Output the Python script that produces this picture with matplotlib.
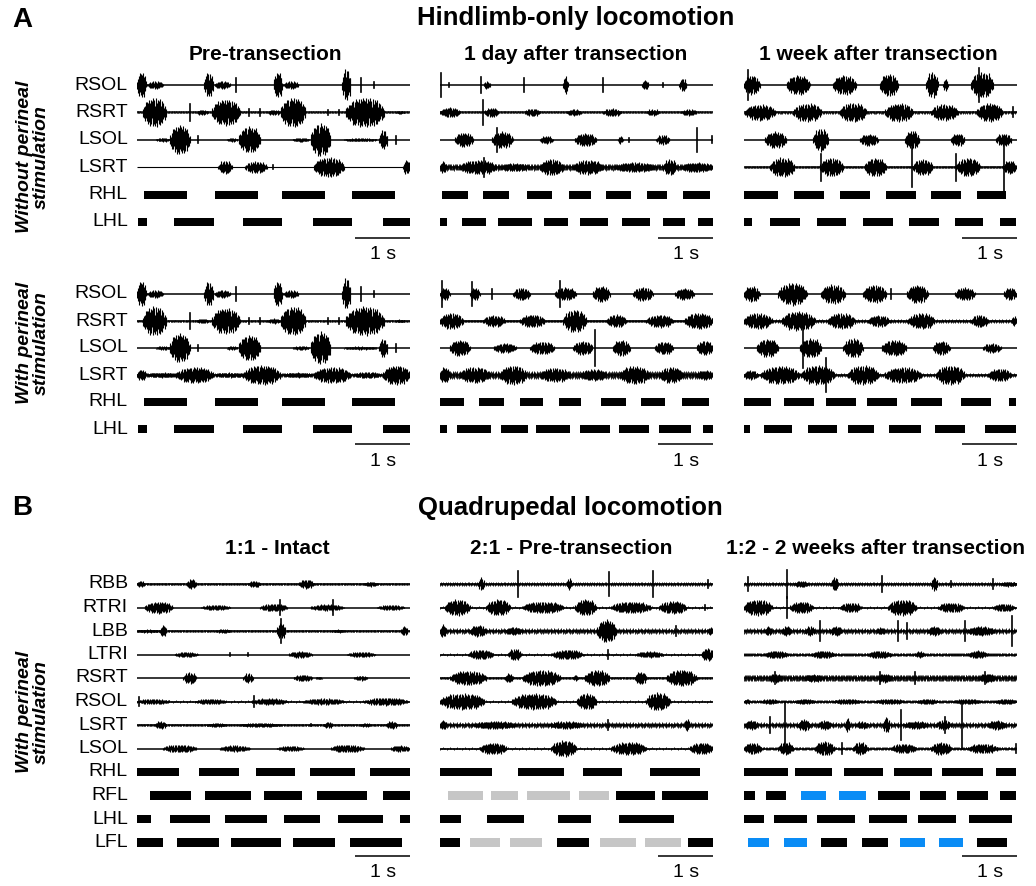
import numpy as np
import matplotlib
matplotlib.use("Agg")
import matplotlib.pyplot as plt
from matplotlib.transforms import blended_transform_factory

plt.rcParams['font.family'] = ['Liberation Sans', 'DejaVu Sans']

# EMG bursts: (onset s, offset s, half amplitude in a.u.); onset == offset -> single spike
# ---------- A: hindlimb-only, pre-transection ----------
a_pre_rsol = [(0.00, 0.17, 40), (0.19, 0.48, 12), (1.23, 1.40, 38), (1.42, 1.71, 12), (1.82, 1.82, 20),
              (2.50, 2.66, 40), (2.68, 2.96, 12), (3.76, 3.91, 50), (4.10, 4.10, 20), (4.34, 4.34, 8)]
a_pre_rsrt = [(0.11, 0.54, 45), (0.97, 0.97, 25), (1.10, 1.30, 8), (1.37, 1.89, 40), (2.06, 2.06, 10),
              (2.25, 2.25, 10), (2.40, 2.62, 8), (2.63, 3.09, 45), (3.50, 3.50, 8), (3.70, 3.70, 8),
              (3.82, 4.53, 45), (4.75, 4.90, 5)]
a_pre_lsol = [(0.35, 0.60, 6), (0.60, 0.97, 45), (1.12, 1.12, 10), (1.65, 1.84, 6), (1.86, 2.26, 40),
              (2.85, 3.15, 6), (3.18, 3.55, 50), (3.80, 4.40, 5), (4.44, 4.59, 30), (4.74, 4.74, 12)]
a_pre_lsrt = [(1.49, 1.74, 20), (1.98, 2.38, 18), (2.49, 2.49, 6), (3.24, 3.79, 30), (4.87, 5.00, 22)]
a_pre_lsrt_ps = [(0.00, 0.17, 18), (0.20, 0.72, 8), (0.72, 1.40, 25), (1.45, 1.95, 8), (1.95, 2.63, 30),
                 (2.70, 3.20, 8), (3.24, 3.91, 25), (3.98, 4.45, 10), (4.50, 5.00, 30)]
a_pre_rhl = [(0.12, 0.91), (1.43, 2.21), (2.66, 3.45), (3.93, 4.72)]
a_pre_lhl = [(0.02, 0.18), (0.67, 1.41), (1.95, 2.66), (3.23, 3.94), (4.50, 5.00)]

# ---------- A: 1 day after transection ----------
a_day_rsol = [(0.01, 0.01, 35), (0.17, 0.17, 6), (0.76, 0.76, 25), (0.80, 0.92, 12), (1.54, 1.54, 20),
              (2.26, 2.34, 28), (2.98, 2.98, 22), (3.70, 3.82, 15), (4.09, 4.09, 6), (4.38, 4.52, 20)]
a_day_rsrt = [(0.00, 0.37, 15), (0.79, 0.79, 38), (0.82, 1.07, 15), (1.55, 1.83, 12), (2.32, 2.59, 10),
              (2.99, 3.32, 12), (3.78, 4.02, 10), (4.42, 4.70, 10)]
a_day_lsol = [(0.27, 0.61, 22), (0.95, 1.34, 25), (1.04, 1.04, 35), (1.83, 2.07, 12), (2.47, 2.87, 20),
              (3.26, 3.35, 12), (3.47, 3.47, 6), (3.96, 4.21, 15), (4.70, 4.70, 35), (4.99, 4.99, 10)]
a_day_lsrt = [(0.00, 0.12, 18), (0.37, 1.04, 22), (0.80, 0.80, 28), (1.10, 1.65, 12), (1.83, 2.26, 25),
              (2.44, 2.99, 22), (3.20, 3.95, 15), (4.09, 4.33, 25), (4.43, 5.00, 15)]
a_day_rhl = [(0.04, 0.52), (0.79, 1.26), (1.60, 2.06), (2.37, 2.77), (3.04, 3.49), (3.79, 4.15), (4.45, 4.94)]
a_day_lhl = [(0.00, 0.12), (0.41, 0.85), (1.07, 1.68), (1.90, 2.35), (2.57, 3.08), (3.34, 3.84),
             (4.09, 4.48), (4.73, 5.00)]

a_day_rsol_ps = [(0.00, 0.18, 20), (0.03, 0.03, 40), (0.55, 0.73, 20), (0.58, 0.58, 35), (0.95, 0.95, 15),
                 (1.34, 1.65, 20), (2.10, 2.50, 20), (2.19, 2.19, 40), (2.80, 3.11, 25), (3.54, 3.90, 22),
                 (4.30, 4.66, 18)]
a_day_rsrt_ps = [(0.00, 0.43, 25), (0.79, 1.19, 18), (1.46, 1.92, 20), (2.26, 2.68, 35), (3.05, 3.41, 20),
                 (3.78, 4.27, 20), (4.48, 5.00, 25)]
a_day_lsol_ps = [(0.18, 0.55, 25), (0.98, 1.40, 15), (1.65, 2.10, 20), (2.44, 2.80, 22), (2.84, 2.84, 55),
                 (3.17, 3.48, 25), (3.93, 4.27, 20), (4.70, 5.00, 22)]
a_day_lsrt_ps = [(0.00, 0.18, 25), (0.37, 0.91, 25), (1.10, 1.59, 30), (1.83, 2.38, 22), (2.57, 3.05, 18),
                 (3.29, 3.84, 28), (4.02, 4.45, 25), (4.70, 5.00, 15)]
a_day_rhl_ps = [(0.00, 0.44), (0.71, 1.17), (1.46, 1.89), (2.18, 2.59), (2.94, 3.40), (3.68, 4.13), (4.43, 4.92)]
a_day_lhl_ps = [(0.00, 0.12), (0.32, 0.93), (1.12, 1.62), (1.76, 2.38), (2.57, 3.11), (3.28, 3.83),
                (4.02, 4.60), (4.82, 5.00)]

# ---------- A: 1 week after transection ----------
a_week_rsol = [(0.00, 0.29, 30), (0.08, 0.08, 45), (0.78, 1.21, 30), (1.63, 2.06, 30), (2.49, 2.82, 35),
               (3.34, 3.55, 40), (3.65, 3.74, 20), (4.16, 4.56, 40), (4.30, 4.30, 50)]
a_week_rsrt = [(0.02, 0.57, 25), (0.90, 1.42, 28), (1.76, 2.24, 30), (2.58, 3.10, 28), (3.43, 3.92, 25),
               (4.26, 4.74, 28), (4.93, 4.93, 15)]
a_week_lsol = [(0.38, 0.78, 25), (1.27, 1.54, 35), (2.12, 2.46, 18), (2.95, 3.22, 28), (3.79, 4.04, 20),
               (4.62, 4.90, 20)]
a_week_lsrt = [(0.48, 0.93, 30), (1.39, 1.82, 28), (1.41, 1.41, 40), (2.21, 2.61, 28), (3.07, 3.07, 60),
               (3.10, 3.46, 25), (3.89, 3.89, 40), (3.89, 4.32, 28), (4.76, 4.76, 70), (4.74, 4.99, 20)]
a_week_rhl = [(0.00, 0.62), (0.91, 1.47), (1.76, 2.30), (2.60, 3.15), (3.42, 3.97), (4.26, 4.80)]
a_week_lhl = [(0.00, 0.14), (0.48, 1.02), (1.34, 1.87), (2.18, 2.72), (3.02, 3.57), (3.86, 4.38), (4.68, 4.99)]

a_week_rsol_ps = [(0.00, 0.29, 25), (0.63, 1.15, 35), (1.41, 1.85, 30), (2.18, 2.61, 28), (2.70, 2.70, 15),
                  (2.98, 3.37, 28), (3.86, 4.23, 20), (4.76, 4.99, 20)]
a_week_rsrt_ps = [(0.00, 0.51, 25), (0.69, 1.30, 30), (1.54, 2.03, 25), (2.27, 2.67, 18), (3.01, 3.49, 25),
                  (4.16, 4.47, 20), (4.90, 4.99, 15)]
a_week_lsol_ps = [(0.23, 0.63, 28), (1.02, 1.42, 30), (1.08, 1.08, 60), (1.82, 2.18, 30), (2.52, 2.98, 25),
                  (3.46, 3.77, 22), (4.38, 4.71, 15)]
a_week_lsrt_ps = [(0.00, 0.26, 15), (0.32, 1.02, 28), (1.05, 1.66, 30), (1.50, 1.50, 50), (1.91, 2.46, 30),
                  (2.58, 3.25, 25), (3.52, 4.04, 30), (4.47, 4.90, 20)]
a_week_rhl_ps = [(0.00, 0.49), (0.73, 1.28), (1.50, 2.05), (2.25, 2.81), (3.05, 3.63), (3.97, 4.52), (4.85, 4.99)]
a_week_lhl_ps = [(0.00, 0.11), (0.37, 0.88), (1.18, 1.71), (1.91, 2.38), (2.65, 3.24), (3.49, 4.04),
                 (4.42, 4.99)]

# ---------- B: quadrupedal, 1:1 intact ----------
b_int_rbb = [(0.00, 0.14, 10), (0.91, 1.09, 15), (2.04, 2.26, 10), (2.96, 3.24, 14), (4.16, 4.40, 8)]
b_int_rtri = [(0.14, 0.66, 18), (1.18, 1.71, 8), (2.26, 2.75, 12), (2.62, 2.62, 22), (3.18, 3.79, 10),
              (3.59, 3.59, 22), (4.40, 4.90, 8)]
b_int_lbb = [(0.00, 0.42, 5), (0.42, 0.54, 18), (1.46, 1.71, 6), (2.56, 2.72, 25), (2.63, 2.63, 35),
             (3.58, 3.80, 5), (4.83, 4.96, 15)]
b_int_ltri = [(0.69, 1.12, 8), (1.71, 1.71, 5), (2.04, 2.04, 5), (2.78, 3.21, 10), (3.85, 4.37, 8)]
b_int_rsrt = [(0.85, 1.09, 18), (1.95, 2.13, 15), (2.87, 3.21, 10), (3.26, 3.40, 4), (3.98, 4.22, 8)]
b_int_rsol = [(0.00, 0.60, 8), (0.03, 0.03, 12), (1.06, 1.64, 8), (2.10, 2.75, 10), (2.15, 2.15, 15),
              (3.06, 3.79, 10), (4.16, 4.96, 12)]
b_int_lsrt = [(0.33, 0.54, 12), (1.28, 1.64, 6), (1.89, 2.63, 6), (3.18, 3.18, 4), (3.42, 3.58, 10),
              (4.10, 4.28, 6), (4.56, 4.77, 12)]
b_int_lsol = [(0.48, 1.09, 12), (1.52, 2.07, 10), (2.56, 3.06, 8), (3.55, 4.16, 12), (4.65, 5.00, 10)]
b_int_rhl = [(0.00, 0.77), (1.13, 1.87), (2.18, 2.90), (3.17, 3.99), (4.27, 5.00)]
b_int_rfl = [(0.23, 0.99), (1.25, 2.09), (2.32, 3.02), (3.30, 4.22), (4.51, 5.00)]
b_int_lhl = [(0.00, 0.26), (0.60, 1.34), (1.61, 2.39), (2.69, 3.36), (3.68, 4.50), (4.82, 5.00)]
b_int_lfl = [(0.00, 0.47), (0.73, 1.50), (1.73, 2.63), (2.85, 3.63), (3.90, 4.85)]

# ---------- B: 2:1 pre-transection ----------
b_pre_rbb = [(0.70, 0.82, 20), (1.43, 1.43, 40), (2.32, 2.41, 18), (3.10, 3.10, 35), (3.90, 3.90, 40),
             (4.91, 4.91, 12)]
b_pre_rtri = [(0.09, 0.55, 25), (0.85, 1.28, 25), (1.52, 2.26, 18), (2.47, 2.87, 25), (3.14, 3.87, 18),
              (4.02, 4.51, 20), (4.85, 4.85, 8)]
b_pre_lbb = [(0.00, 0.12, 20), (0.55, 0.85, 18), (1.20, 1.50, 12), (2.87, 3.23, 35), (4.33, 4.33, 15),
             (4.90, 5.00, 12)]
b_pre_ltri = [(0.52, 0.98, 15), (1.25, 1.49, 18), (2.04, 2.62, 15), (3.08, 3.08, 12), (3.60, 4.09, 10),
              (4.79, 5.00, 20)]
b_pre_rsrt = [(0.18, 0.85, 22), (1.19, 1.34, 15), (1.52, 2.20, 25), (2.44, 2.53, 10), (2.65, 3.11, 25),
              (3.57, 3.78, 20), (4.15, 4.70, 25)]
b_pre_rsol = [(0.00, 0.82, 25), (1.31, 2.13, 25), (2.50, 2.87, 25), (3.78, 4.21, 28)]
b_pre_lsrt = [(0.00, 0.12, 15), (0.61, 1.40, 12), (1.98, 2.62, 12), (3.08, 3.08, 15), (4.48, 4.57, 20)]
b_pre_lsol = [(0.73, 1.22, 18), (2.04, 2.50, 25), (3.14, 3.78, 20), (4.57, 5.00, 18)]
b_pre_rhl = [(0.00, 0.96), (1.43, 2.27), (2.62, 3.34), (3.84, 4.77)]
b_pre_rfl = [(0.15, 0.78), (0.93, 1.43), (1.60, 2.38), (2.54, 3.09), (3.22, 3.93), (4.07, 4.90)]
b_pre_rfl_kind = [1, 1, 1, 1, 0, 0]
b_pre_lhl = [(0.00, 0.38), (0.86, 1.53), (2.16, 2.76), (3.27, 4.28)]
b_pre_lfl = [(0.00, 0.36), (0.55, 1.10), (1.28, 1.87), (2.14, 2.73), (2.93, 3.59), (3.75, 4.41), (4.55, 5.00)]
b_pre_lfl_kind = [0, 1, 1, 0, 1, 1, 0]

# ---------- B: 1:2 2 weeks after transection ----------
b_2wk_rbb = [(0.08, 0.08, 20), (0.78, 0.78, 42), (0.93, 1.18, 10), (1.60, 1.73, 22), (2.52, 2.52, 25),
             (3.43, 3.55, 22), (3.80, 3.80, 10), (4.56, 4.56, 15), (4.71, 4.99, 8)]
b_2wk_rtri = [(0.00, 0.51, 25), (0.78, 0.78, 30), (0.84, 1.27, 18), (1.76, 2.15, 15), (2.64, 3.16, 25),
              (3.55, 4.04, 15), (4.56, 4.96, 12)]
b_2wk_lbb = [(0.38, 0.51, 15), (0.69, 0.87, 15), (1.12, 1.30, 15), (1.39, 1.39, 30), (1.57, 1.79, 15),
             (2.43, 2.58, 12), (2.82, 2.82, 30), (2.99, 2.99, 25), (3.37, 3.61, 15), (4.04, 4.04, 30),
             (4.10, 4.59, 15), (4.91, 4.91, 45)]
b_2wk_ltri = [(0.38, 0.81, 12), (1.24, 1.66, 12), (2.27, 2.70, 12), (3.13, 3.31, 10), (4.10, 4.47, 12)]
b_2wk_rsrt = [(0.45, 0.70, 14), (0.57, 0.57, 18), (1.10, 1.45, 12), (2.45, 2.70, 14), (2.49, 2.49, 18),
              (3.13, 3.13, 18), (4.30, 4.60, 14), (4.41, 4.41, 18)]
b_2wk_rsol = [(0.00, 0.11, 8), (0.32, 0.63, 8), (0.93, 1.30, 8), (1.63, 2.15, 8), (2.40, 2.94, 8),
              (3.16, 3.55, 8), (3.83, 4.35, 8), (4.59, 4.99, 8)]
b_2wk_lsrt = [(0.02, 0.26, 15), (0.48, 0.48, 25), (0.75, 0.75, 70), (0.99, 1.21, 18), (1.36, 1.60, 15),
              (1.85, 1.94, 22), (2.06, 2.27, 12), (2.55, 2.67, 25), (2.88, 2.88, 45), (2.94, 3.37, 12),
              (3.52, 3.80, 15), (3.68, 3.68, 25), (4.00, 4.00, 70), (4.47, 4.80, 15)]
b_2wk_lsol = [(0.00, 0.32, 18), (0.63, 0.90, 20), (1.30, 1.66, 22), (1.79, 1.79, 15), (2.00, 2.27, 20),
              (2.70, 3.16, 15), (3.43, 3.80, 20), (4.10, 4.65, 15), (4.99, 4.99, 12)]
b_2wk_rhl = [(0.00, 0.80), (0.93, 1.62), (1.83, 2.54), (2.74, 3.45), (3.63, 4.38), (4.61, 4.99)]
b_2wk_rfl = [(0.00, 0.20), (0.41, 0.77), (1.04, 1.50), (1.74, 2.23), (2.46, 3.04), (3.22, 3.70),
             (3.90, 4.47), (4.68, 4.99)]
b_2wk_rfl_kind = [0, 0, 2, 2, 0, 0, 0, 0]
b_2wk_lhl = [(0.00, 0.37), (0.55, 1.15), (1.34, 2.04), (2.29, 2.99), (3.18, 3.88), (4.13, 4.91)]
b_2wk_lfl = [(0.07, 0.46), (0.73, 1.15), (1.41, 1.88), (2.16, 2.63), (2.85, 3.32), (3.57, 4.01), (4.26, 4.81)]
b_2wk_lfl_kind = [2, 2, 0, 0, 2, 2, 0]

# background noise level of each trace (a.u.)
a_pre_bg = [2, 3, 2, 1]
a_pre_bg_ps = [2, 3, 2, 6]
a_day_bg = [2, 3, 2, 10]
a_day_bg_ps = [2, 4, 2, 12]
a_week_bg = [2, 4, 2, 3]
a_week_bg_ps = [2, 5, 2, 5]
b_int_bg = [3, 2, 3, 2, 2, 3, 3, 2]
b_pre_bg = [5, 3, 8, 3, 3, 3, 8, 3]
b_2wk_bg = [5, 3, 8, 5, 10, 4, 8, 4]

emg_a = ['RSOL', 'RSRT', 'LSOL', 'LSRT']
limbs_a = ['RHL', 'LHL']
emg_b = ['RBB', 'RTRI', 'LBB', 'LTRI', 'RSRT', 'RSOL', 'LSRT', 'LSOL']
limbs_b = ['RHL', 'RFL', 'LHL', 'LFL']

kind_colors = {0: 'black', 1: '#c6c6c6', 2: '#0a8cf5'}

# drawing style for a burst: spindle envelope and a fixed jagged stroke pattern
env_x = [0.0, 0.2, 0.5, 0.8, 1.0]
env_h = [0.3, 0.85, 1.0, 0.85, 0.3]
jag_up = np.array([1.0, 0.55, 0.85, 0.4, 0.95, 0.6, 0.75, 0.45, 0.9, 0.55, 0.7, 0.5])
jag_dn = np.array([0.65, 0.9, 0.45, 0.8, 0.55, 1.0, 0.5, 0.85, 0.4, 0.75, 0.95, 0.5])
STEP = 0.011

W, H = 1036, 886
fig = plt.figure(figsize=(W / 100, H / 100), dpi=100)


def fx(px):
    return px / W


def fy(py):
    return 1 - py / H


def strokes(ax, t0, t1, a, y, lw):
    ts = np.arange(t0, t1 + 1e-9, STEP)
    rel = (ts - t0) / max(t1 - t0, 1e-9)
    env = np.interp(rel, env_x, env_h) * a
    idx = np.arange(len(ts)) % len(jag_up)
    ax.vlines(ts, y - env * jag_dn[idx], y + env * jag_up[idx], color='black', lw=lw)


def draw_panel(x0, row0, sp, traces, bgs, bars, kinds, emg_names, limb_names, gain, show_labels):
    nrow = len(emg_names) + len(limb_names)
    top, bottom = -0.8, nrow - 1 + 1.8
    ax = fig.add_axes([fx(x0), fy(row0 + bottom * sp), fx(273), (bottom - top) * sp / H])
    ax.set_xlim(0, 5)
    ax.set_ylim(bottom, top)
    ax.axis('off')
    for k, (tr, bg) in enumerate(zip(traces, bgs)):
        y = k
        ax.plot([0, 5], [y, y], color='black', lw=1.1 if bg > 1 else 0.8, solid_capstyle='butt')
        if bg > 2:
            ts = np.arange(0, 5.0001, STEP)
            idx = np.arange(len(ts)) % len(jag_up)
            ax.vlines(ts, y - bg / gain * jag_dn[idx], y + bg / gain * jag_up[idx], color='black', lw=0.6)
        for t0, t1, a in tr:
            a = a / gain
            if t1 - t0 < 0.02:
                ax.plot([t0, t0], [y - a, y + a], color='black', lw=1.2)
            else:
                strokes(ax, t0, t1, a, y, 0.8)
    bh = 8.0 / sp
    for j, (bl, kd) in enumerate(zip(bars, kinds)):
        y = len(emg_names) + j
        for (s, e), kk in zip(bl, kd):
            ax.broken_barh([(s, e - s)], (y - bh / 2, bh), color=kind_colors[kk], lw=0)
    sb = nrow - 1 + 0.57
    ax.plot([4, 5], [sb, sb], color='black', lw=1.1, solid_capstyle='butt')
    ax.text(4.5, sb + 0.62 * 27 / sp, '1 s', ha='center', va='center', fontsize=14)
    if show_labels:
        tr_ = blended_transform_factory(ax.transAxes, ax.transData)
        for k, name in enumerate(emg_names + limb_names):
            ax.text(-9 / 273, k, name, transform=tr_, ha='right', va='center', fontsize=14)
    return ax


cols_x0 = [137, 440, 744]


def zeros(bl):
    return [0] * len(bl)


# A, without perineal stimulation
group_a1 = [
    ([a_pre_rsol, a_pre_rsrt, a_pre_lsol, a_pre_lsrt], a_pre_bg, [a_pre_rhl, a_pre_lhl]),
    ([a_day_rsol, a_day_rsrt, a_day_lsol, a_day_lsrt], a_day_bg, [a_day_rhl, a_day_lhl]),
    ([a_week_rsol, a_week_rsrt, a_week_lsol, a_week_lsrt], a_week_bg, [a_week_rhl, a_week_lhl]),
]
# A, with perineal stimulation
group_a2 = [
    ([a_pre_rsol, a_pre_rsrt, a_pre_lsol, a_pre_lsrt_ps], a_pre_bg_ps, [a_pre_rhl, a_pre_lhl]),
    ([a_day_rsol_ps, a_day_rsrt_ps, a_day_lsol_ps, a_day_lsrt_ps], a_day_bg_ps, [a_day_rhl_ps, a_day_lhl_ps]),
    ([a_week_rsol_ps, a_week_rsrt_ps, a_week_lsol_ps, a_week_lsrt_ps], a_week_bg_ps,
     [a_week_rhl_ps, a_week_lhl_ps]),
]
for i, (tr, bg, bars) in enumerate(group_a1):
    draw_panel(cols_x0[i], 85, 27.4, tr, bg, bars, [zeros(b) for b in bars], emg_a, limbs_a, 81, i == 0)
for i, (tr, bg, bars) in enumerate(group_a2):
    draw_panel(cols_x0[i], 294, 27.0, tr, bg, bars, [zeros(b) for b in bars], emg_a, limbs_a, 81, i == 0)

# B, quadrupedal
group_b = [
    ([b_int_rbb, b_int_rtri, b_int_lbb, b_int_ltri, b_int_rsrt, b_int_rsol, b_int_lsrt, b_int_lsol], b_int_bg,
     [b_int_rhl, b_int_rfl, b_int_lhl, b_int_lfl],
     [zeros(b_int_rhl), zeros(b_int_rfl), zeros(b_int_lhl), zeros(b_int_lfl)]),
    ([b_pre_rbb, b_pre_rtri, b_pre_lbb, b_pre_ltri, b_pre_rsrt, b_pre_rsol, b_pre_lsrt, b_pre_lsol], b_pre_bg,
     [b_pre_rhl, b_pre_rfl, b_pre_lhl, b_pre_lfl],
     [zeros(b_pre_rhl), b_pre_rfl_kind, zeros(b_pre_lhl), b_pre_lfl_kind]),
    ([b_2wk_rbb, b_2wk_rtri, b_2wk_lbb, b_2wk_ltri, b_2wk_rsrt, b_2wk_rsol, b_2wk_lsrt, b_2wk_lsol], b_2wk_bg,
     [b_2wk_rhl, b_2wk_rfl, b_2wk_lhl, b_2wk_lfl],
     [zeros(b_2wk_rhl), b_2wk_rfl_kind, zeros(b_2wk_lhl), b_2wk_lfl_kind]),
]
for i, (tr, bg, bars, kinds) in enumerate(group_b):
    draw_panel(cols_x0[i], 584, 23.5, tr, bg, bars, kinds, emg_b, limbs_b, 70, i == 0)

# titles and labels
fig.text(fx(12), fy(20), 'A', fontsize=20, fontweight='bold', va='center')
fig.text(fx(12), fy(508), 'B', fontsize=20, fontweight='bold', va='center')
fig.text(fx(576), fy(18), 'Hindlimb-only locomotion', fontsize=18.5, fontweight='bold', ha='center', va='center')
fig.text(fx(570), fy(508), 'Quadrupedal locomotion', fontsize=18.5, fontweight='bold', ha='center', va='center')
for x, t in zip([265, 576, 878], ['Pre-transection', '1 day after transection', '1 week after transection']):
    fig.text(fx(x), fy(55), t, fontsize=15, fontweight='bold', ha='center', va='center')
for x, t in zip([277, 571, 876], ['1:1 - Intact', '2:1 - Pre-transection', '1:2 - 2 weeks after transection']):
    fig.text(fx(x), fy(548), t, fontsize=15, fontweight='bold', ha='center', va='center')
for y, t in zip([157, 343, 712], ['Without perineal\nstimulation', 'With perineal\nstimulation',
                                  'With perineal\nstimulation']):
    fig.text(fx(33), fy(y), t, fontsize=14, fontweight='bold', fontstyle='italic', rotation=90,
             ha='center', va='center', linespacing=1.0)

fig.savefig('out.png', dpi=100)
